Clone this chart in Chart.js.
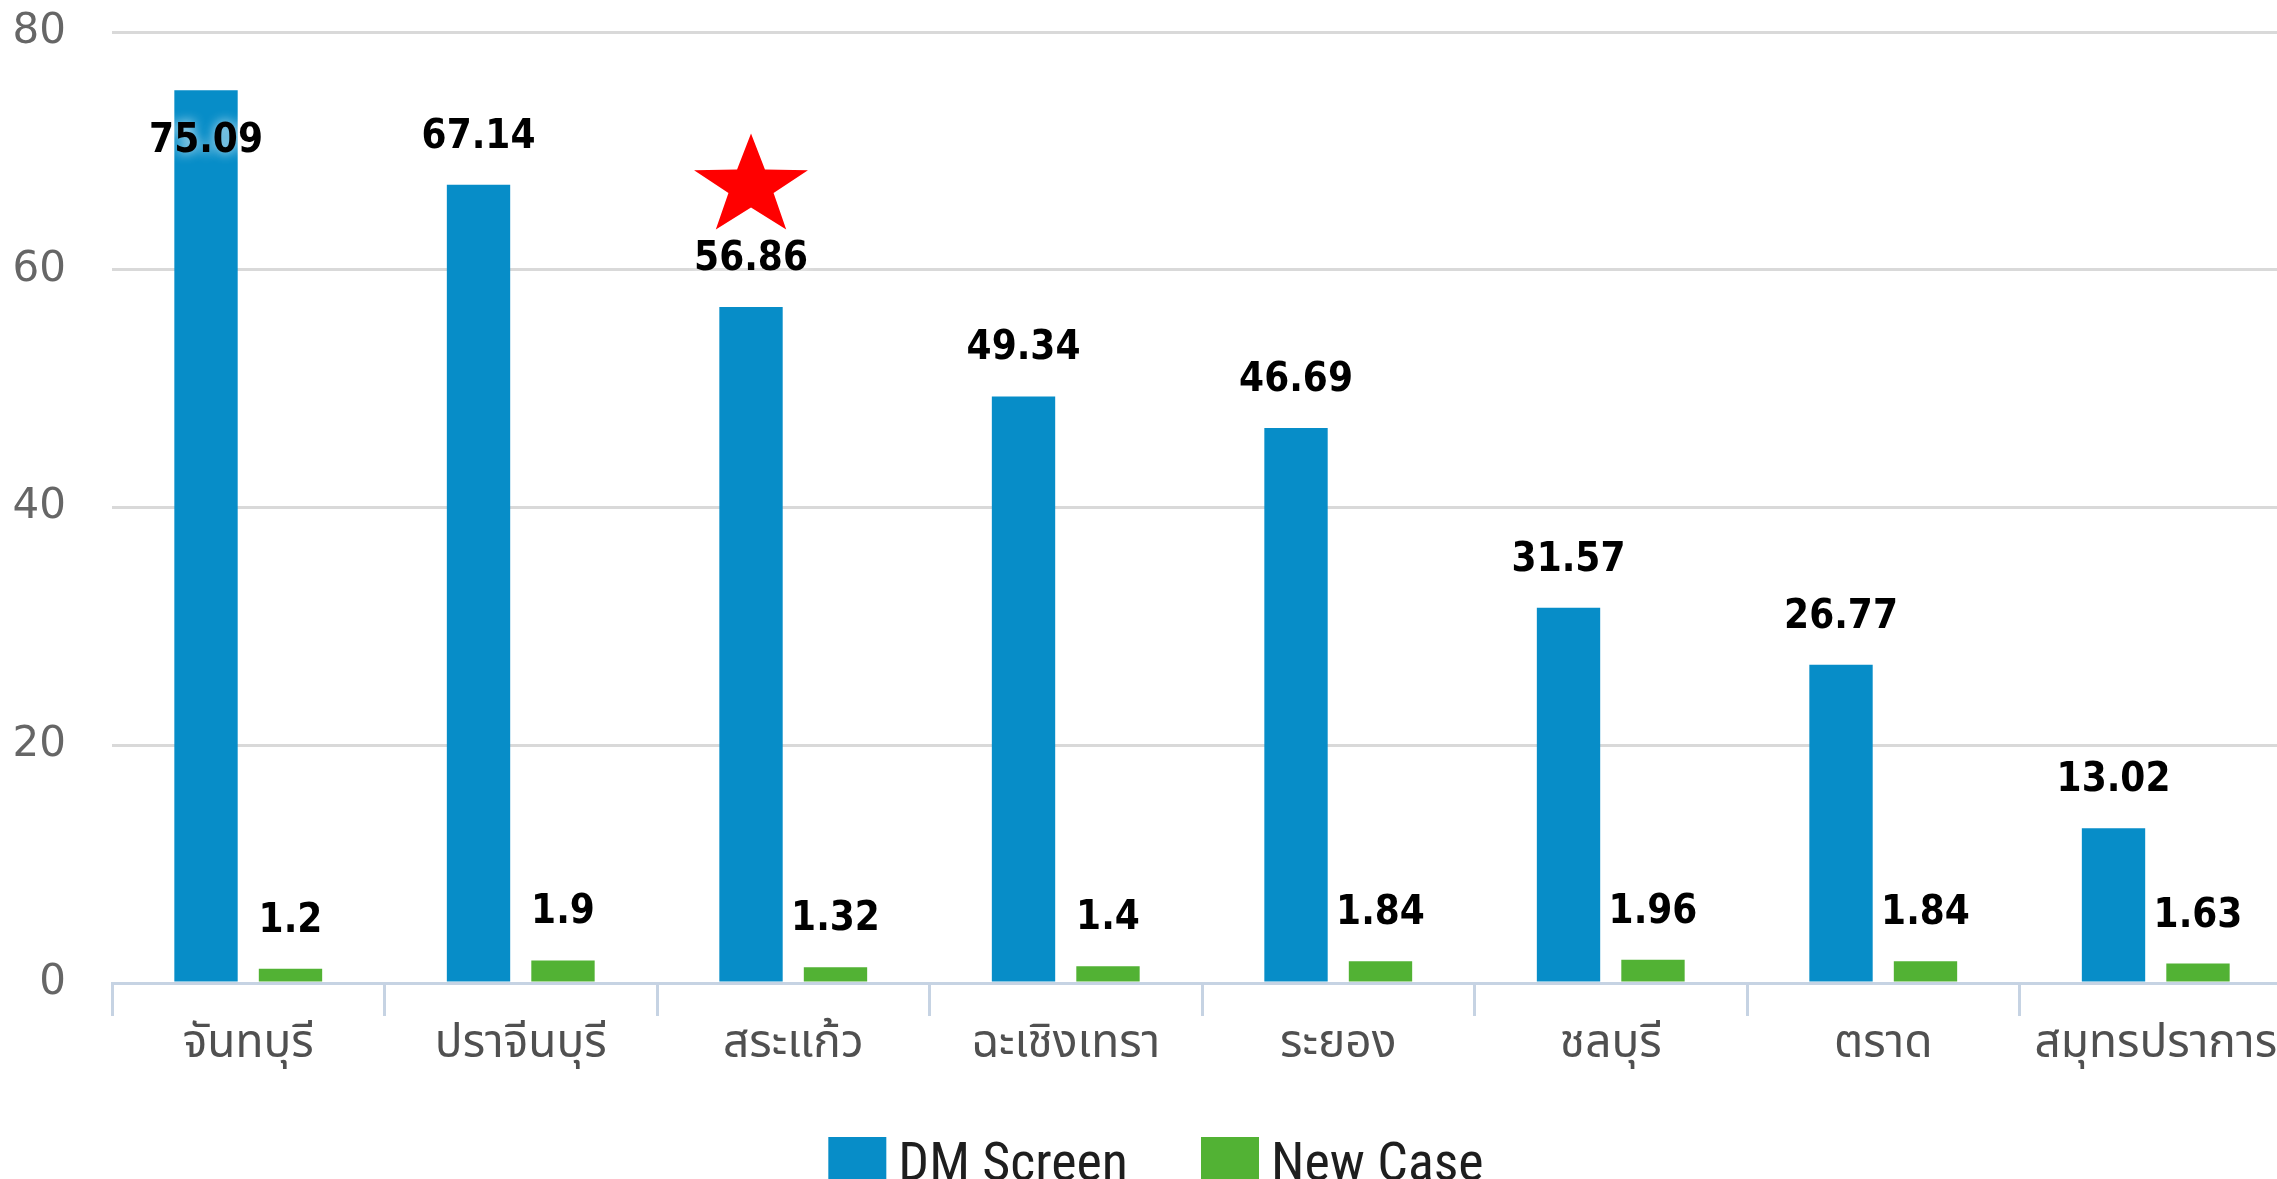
<!DOCTYPE html>
<html>
<head>
<meta charset="utf-8">
<script src="https://cdn.jsdelivr.net/npm/chart.js@4.4.1/dist/chart.umd.min.js"></script>
<style>
    html, body { margin: 0; padding: 0; background: #fff; overflow: hidden; }
    #wrap { position: absolute; left: 0; top: 0; }
</style>
</head>
<body>
<div id="wrap"><canvas id="chart" width="2292" height="1200"></canvas></div>
<script>
const provinces = ["จันทบุรี", "ปราจีนบุรี", "สระแก้ว", "ฉะเชิงเทรา", "ระยอง", "ชลบุรี", "ตราด", "สมุทรปราการ"];
const dmScreen = [75.09, 67.14, 56.86, 49.34, 46.69, 31.57, 26.77, 13.02];
const newCase = [1.2, 1.9, 1.32, 1.4, 1.84, 1.96, 1.84, 1.63];
const yTicks = [0, 20, 40, 60, 80];
// red star marker drawn above this province's DM Screen bar
const starProvince = "สระแก้ว";
const starValue = 67;

const thaiFont = "'Noto Sans Thai', 'Tahoma', 'DejaVu Sans', sans-serif";

// value labels above each bar, pushed inside the bar when there is no room
const valueLabels = {
    id: "valueLabels",
    afterDatasetsDraw: function (chart) {
        const ctx = chart.ctx;
        const area = chart.chartArea;
        ctx.save();
        ctx.font = "bold 40px 'DejaVu Sans Condensed', 'DejaVu Sans', sans-serif";
        ctx.textAlign = "center";
        ctx.textBaseline = "alphabetic";
        ctx.fillStyle = "#000";
        ctx.shadowColor = "rgba(255,255,255,0.85)";
        ctx.shadowBlur = 12;
        chart.data.datasets.forEach(function (ds, i) {
            const meta = chart.getDatasetMeta(i);
            meta.data.forEach(function (bar, j) {
                let y = bar.y - 37;
                if (y - 30 < area.top) {
                    y = bar.y + 62;
                }
                ctx.fillText(String(ds.data[j]), bar.x, y);
            });
        });
        ctx.restore();
    }
};

const starMarker = {
    id: "starMarker",
    afterDatasetsDraw: function (chart) {
        const idx = provinces.indexOf(starProvince);
        if (idx < 0) return;
        const bar = chart.getDatasetMeta(0).data[idx];
        const cx = bar.x;
        const cy = chart.scales.y.getPixelForValue(starValue);
        const outer = 53, inner = 21;
        const ctx = chart.ctx;
        ctx.save();
        ctx.translate(cx, cy);
        ctx.scale(1.13, 1);
        ctx.beginPath();
        for (let k = 0; k < 10; k++) {
            const r = k % 2 === 0 ? outer : inner;
            const a = -Math.PI / 2 + k * Math.PI / 5;
            const px = r * Math.cos(a), py = r * Math.sin(a);
            if (k === 0) ctx.moveTo(px, py); else ctx.lineTo(px, py);
        }
        ctx.closePath();
        ctx.fillStyle = "#ff0000";
        ctx.fill();
        ctx.restore();
    }
};

// legend row under the axis, built from the datasets
const bottomLegend = {
    id: "bottomLegend",
    afterDraw: function (chart) {
        const ctx = chart.ctx;
        const box = 58, gap = 12, spacing = 73;
        const boxTop = 1137;
        ctx.save();
        ctx.font = "54px 'Liberation Sans Narrow', 'Roboto Condensed', 'Liberation Sans', sans-serif";
        ctx.textBaseline = "middle";
        ctx.textAlign = "left";
        const items = chart.data.datasets.map(ds => ({
            text: ds.label,
            color: ds.backgroundColor,
            w: box + gap + ctx.measureText(ds.label).width
        }));
        const total = items.reduce((s, it) => s + it.w, 0) + spacing * (items.length - 1);
        let x = 1156 - total / 2;
        items.forEach(function (it) {
            ctx.fillStyle = it.color;
            ctx.fillRect(x, boxTop, box, box);
            ctx.fillStyle = "#1e1e1e";
            ctx.fillText(it.text, x + box + gap, boxTop + box / 2);
            x += it.w + spacing;
        });
        ctx.restore();
    }
};

const ctx = document.getElementById("chart").getContext("2d");
new Chart(ctx, {
    type: "bar",
    data: {
        labels: provinces,
        datasets: [{
            label: "DM Screen",
            data: dmScreen,
            backgroundColor: "#078dc8",
            borderWidth: 0,
            barPercentage: 0.75,
            categoryPercentage: 0.62
        }, {
            label: "New Case",
            data: newCase,
            backgroundColor: "#52b234",
            borderWidth: 0,
            barPercentage: 0.75,
            categoryPercentage: 0.62
        }]
    },
    options: {
        responsive: false,
        animation: false,
        devicePixelRatio: 1,
        layout: {
            padding: {top: 32, left: 0, right: 0, bottom: 83}
        },
        scales: {
            x: {
                grid: {
                    display: true,
                    drawOnChartArea: false,
                    drawTicks: true,
                    tickLength: 33,
                    color: "#c6d3e3",
                    lineWidth: 3,
                    offset: true
                },
                border: {display: true, color: "#c6d3e3", width: 3},
                ticks: {
                    color: "#505050",
                    padding: 4,
                    font: {size: 46, family: thaiFont}
                },
                afterFit: function (scale) {
                    scale.height = 134;
                }
            },
            y: {
                min: 0,
                max: 80,
                afterBuildTicks: function (scale) {
                    scale.ticks = yTicks.map(v => ({value: v}));
                },
                grid: {
                    color: "#d9d9d9",
                    lineWidth: 3,
                    drawTicks: true,
                    tickLength: 42,
                    tickColor: "rgba(0,0,0,0)"
                },
                border: {display: false},
                ticks: {
                    color: "#666",
                    padding: 4,
                    font: {size: 42, family: "'DejaVu Sans', sans-serif"}
                },
                afterFit: function (scale) {
                    scale.width = 112;
                }
            }
        },
        plugins: {
            legend: {display: false},
            tooltip: {enabled: false}
        }
    },
    plugins: [valueLabels, starMarker, bottomLegend]
});
</script>
</body>
</html>
